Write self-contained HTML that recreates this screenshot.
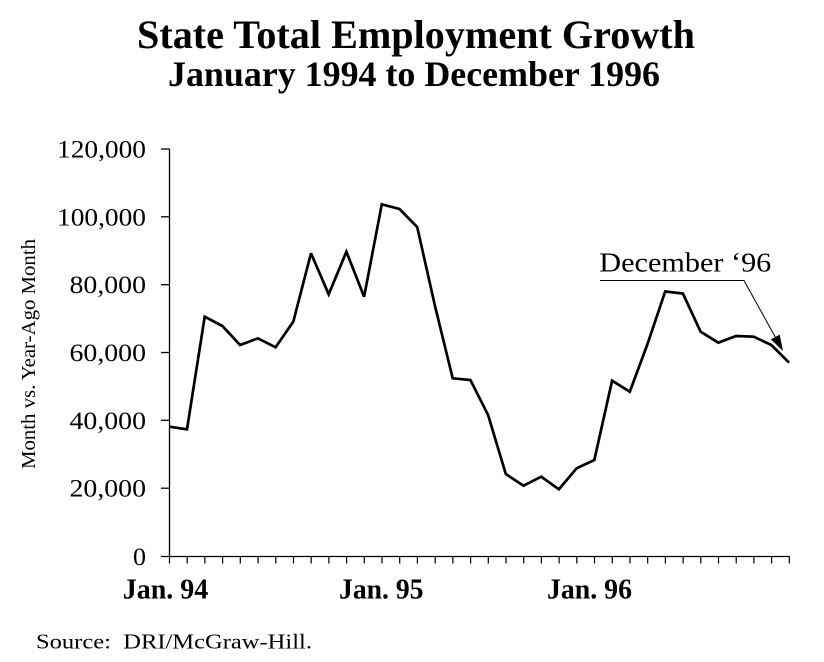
<!DOCTYPE html>
<html>
<head>
<meta charset="utf-8">
<style>
html,body{margin:0;padding:0;background:#fff;}
svg{display:block;}
text{font-family:"Liberation Serif","Times New Roman",serif;fill:#000;}
</style>
</head>
<body>
<svg width="824" height="662" viewBox="0 0 824 662" xmlns="http://www.w3.org/2000/svg">
<rect width="824" height="662" fill="#fff"/>
<!-- Titles -->
<text x="416" y="48" font-size="40" font-weight="bold" text-anchor="middle" textLength="558" lengthAdjust="spacingAndGlyphs">State Total Employment Growth</text>
<text x="414" y="86" font-size="36" font-weight="bold" text-anchor="middle" textLength="492" lengthAdjust="spacingAndGlyphs">January 1994 to December 1996</text>

<!-- Y axis title -->
<text transform="translate(35,354) rotate(-90)" font-size="20.5" text-anchor="middle" textLength="230" lengthAdjust="spacingAndGlyphs">Month vs. Year-Ago Month</text>

<!-- Axes -->
<g stroke="#000" stroke-width="1.3" fill="none">
<line x1="169.5" y1="149" x2="169.5" y2="556.5"/>
<line x1="161" y1="556.5" x2="789.5" y2="556.5"/>
<line x1="161" y1="149" x2="169.5" y2="149"/>
<line x1="161" y1="216.8" x2="169.5" y2="216.8"/>
<line x1="161" y1="284.7" x2="169.5" y2="284.7"/>
<line x1="161" y1="352.5" x2="169.5" y2="352.5"/>
<line x1="161" y1="420.3" x2="169.5" y2="420.3"/>
<line x1="161" y1="488.2" x2="169.5" y2="488.2"/>
</g>
<g stroke="#000" stroke-width="1.2" id="xt">
<line x1="169.5" y1="556" x2="169.5" y2="563.5"/>
<line x1="187.2" y1="556" x2="187.2" y2="563.5"/>
<line x1="204.9" y1="556" x2="204.9" y2="563.5"/>
<line x1="222.6" y1="556" x2="222.6" y2="563.5"/>
<line x1="240.3" y1="556" x2="240.3" y2="563.5"/>
<line x1="258.1" y1="556" x2="258.1" y2="563.5"/>
<line x1="275.8" y1="556" x2="275.8" y2="563.5"/>
<line x1="293.5" y1="556" x2="293.5" y2="563.5"/>
<line x1="311.2" y1="556" x2="311.2" y2="563.5"/>
<line x1="328.9" y1="556" x2="328.9" y2="563.5"/>
<line x1="346.6" y1="556" x2="346.6" y2="563.5"/>
<line x1="364.3" y1="556" x2="364.3" y2="563.5"/>
<line x1="382.0" y1="556" x2="382.0" y2="563.5"/>
<line x1="399.7" y1="556" x2="399.7" y2="563.5"/>
<line x1="417.4" y1="556" x2="417.4" y2="563.5"/>
<line x1="435.2" y1="556" x2="435.2" y2="563.5"/>
<line x1="452.9" y1="556" x2="452.9" y2="563.5"/>
<line x1="470.6" y1="556" x2="470.6" y2="563.5"/>
<line x1="488.3" y1="556" x2="488.3" y2="563.5"/>
<line x1="506.0" y1="556" x2="506.0" y2="563.5"/>
<line x1="523.7" y1="556" x2="523.7" y2="563.5"/>
<line x1="541.4" y1="556" x2="541.4" y2="563.5"/>
<line x1="559.1" y1="556" x2="559.1" y2="563.5"/>
<line x1="576.8" y1="556" x2="576.8" y2="563.5"/>
<line x1="594.5" y1="556" x2="594.5" y2="563.5"/>
<line x1="612.3" y1="556" x2="612.3" y2="563.5"/>
<line x1="630.0" y1="556" x2="630.0" y2="563.5"/>
<line x1="647.7" y1="556" x2="647.7" y2="563.5"/>
<line x1="665.4" y1="556" x2="665.4" y2="563.5"/>
<line x1="683.1" y1="556" x2="683.1" y2="563.5"/>
<line x1="700.8" y1="556" x2="700.8" y2="563.5"/>
<line x1="718.5" y1="556" x2="718.5" y2="563.5"/>
<line x1="736.2" y1="556" x2="736.2" y2="563.5"/>
<line x1="753.9" y1="556" x2="753.9" y2="563.5"/>
<line x1="771.6" y1="556" x2="771.6" y2="563.5"/>
<line x1="789.3" y1="556" x2="789.3" y2="563.5"/>
</g>

<!-- Y labels -->
<g font-size="25" text-anchor="end">
<text x="146" y="157.5" textLength="89" lengthAdjust="spacingAndGlyphs">120,000</text>
<text x="146" y="225.3" textLength="89" lengthAdjust="spacingAndGlyphs">100,000</text>
<text x="146" y="293.2" textLength="76.5" lengthAdjust="spacingAndGlyphs">80,000</text>
<text x="146" y="361" textLength="76.5" lengthAdjust="spacingAndGlyphs">60,000</text>
<text x="146" y="428.8" textLength="76.5" lengthAdjust="spacingAndGlyphs">40,000</text>
<text x="146" y="496.7" textLength="76.5" lengthAdjust="spacingAndGlyphs">20,000</text>
<text x="146" y="565" textLength="13" lengthAdjust="spacingAndGlyphs">0</text>
</g>

<!-- X labels -->
<g font-size="29" font-weight="bold">
<text x="122.7" y="598.3" textLength="85.6" lengthAdjust="spacingAndGlyphs">Jan. 94</text>
<text x="339" y="598.3" textLength="84.5" lengthAdjust="spacingAndGlyphs">Jan. 95</text>
<text x="547" y="598.3" textLength="85" lengthAdjust="spacingAndGlyphs">Jan. 96</text>
</g>

<!-- Data line -->
<polyline fill="none" stroke="#000" stroke-width="2.7" stroke-linejoin="miter" stroke-miterlimit="3"
points="169.3,426.7 187.0,429.3 204.7,316.7 222.4,326 240.1,345 257.9,338.3 275.6,347.3 293.3,321.7 311.0,253.3 328.7,294.3 346.4,251.7 364.1,296.7 381.8,204.3 399.5,209 417.2,227 435.0,306 452.7,378.3 470.4,380 488.1,415 505.8,474 523.5,485.7 541.2,476.7 558.9,489.3 576.6,468.3 594.3,460 612.1,380.7 629.8,391.7 647.5,344 665.2,291.5 682.9,293.5 700.6,331.7 718.3,342.7 736.0,336 753.7,336.7 771.4,345 789.1,362.7"/>

<!-- Annotation -->
<text x="599.3" y="271.7" font-size="27" textLength="172" lengthAdjust="spacingAndGlyphs">December ‘96</text>
<polyline fill="none" stroke="#000" stroke-width="1" points="600,280.5 744,280.5 778,342"/>
<polygon points="783,351 770.9,339.4 779.7,334.6" fill="#000"/>

<!-- Source -->
<text x="36" y="648.3" font-size="21" xml:space="preserve" textLength="276" lengthAdjust="spacingAndGlyphs">Source:  DRI/McGraw-Hill.</text>
</svg>
</body>
</html>
